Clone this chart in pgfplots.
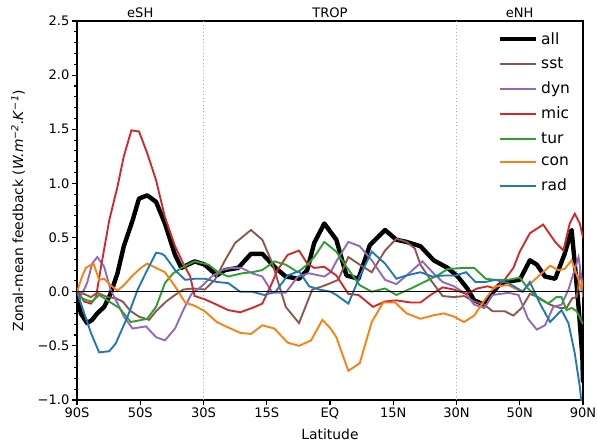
\documentclass[border=0pt]{standalone}
\usepackage{fontspec}
\setmainfont{DejaVu Sans}
\usepackage{pgfplots}
\pgfplotsset{compat=1.18}
\definecolor{tabbrown}{HTML}{8C564B}
\definecolor{tabpurple}{HTML}{9467BD}
\definecolor{tabred}{HTML}{D62728}
\definecolor{tabgreen}{HTML}{2CA02C}
\definecolor{taborange}{HTML}{FF7F0E}
\definecolor{tabblue}{HTML}{1F77B4}
\begin{document}
\begin{tikzpicture}
\begin{axis}[
  scale only axis, width=379.5pt, height=284.25pt,
  xmin=0, xmax=8, ymin=-1, ymax=2.5,
  xtick={0,1,2,3,4,5,6,7,8},
  xticklabels={90S,50S,30S,15S,EQ,15N,30N,50N,90N},
  ytick={-1,-0.5,0,0.5,1,1.5,2,2.5},
  yticklabels={−1.0,−0.5,0.0,0.5,1.0,1.5,2.0,2.5},
  minor y tick num=4,
  tick align=outside, tick pos=left,
  major tick length=3.5pt, minor tick length=2pt,
  every tick/.style={black, line width=0.8pt},
  tick label style={font=\fontsize{9.8}{11.5}\selectfont},
  xticklabel style={inner sep=2pt},
  yticklabel style={inner sep=2pt},
  label style={font=\fontsize{10.4}{12}\selectfont},
  xlabel={Latitude},
  ylabel={Zonal-mean feedback (\textit{W.m}\textsuperscript{\textit{−2}}\textit{.K}\textsuperscript{\textit{−1}})},
  xlabel style={yshift=-2pt},
  ylabel style={yshift=4pt},
  axis line style={line width=0.8pt},
  legend style={draw=none, fill=none, at={(0.988,0.985)}, anchor=north east,
    font=\fontsize{11.6}{13}\selectfont, row sep=4.6pt},
  legend cell align=left,
  legend image code/.code={\draw[#1] (0pt,0pt) -- (27pt,0pt);},
]
\draw[gray!70, dotted, line width=0.6pt] (axis cs:2,-1) -- (axis cs:2,2.5);
\draw[gray!70, dotted, line width=0.6pt] (axis cs:6,-1) -- (axis cs:6,2.5);
\coordinate (eSH) at (axis cs:1,2.5);
\coordinate (TROP) at (axis cs:4,2.5);
\coordinate (eNH) at (axis cs:7,2.5);
\coordinate (SW) at (rel axis cs:0,0);
\coordinate (NE) at (rel axis cs:1,1);

% all
\addplot[black, line width=3.3pt, line join=round] coordinates {
(0.00,0.00)(0.06,-0.20)(0.16,-0.29)(0.24,-0.26)(0.32,-0.20)(0.43,-0.14)(0.53,-0.02)
(0.64,0.17)(0.74,0.42)(0.88,0.66)(0.98,0.86)(1.11,0.89)(1.25,0.83)(1.39,0.63)
(1.55,0.34)(1.65,0.22)(1.86,0.28)(2.02,0.25)(2.21,0.15)(2.34,0.20)(2.55,0.22)
(2.75,0.35)(2.93,0.35)(3.14,0.22)(3.30,0.14)(3.51,0.12)(3.64,0.20)(3.75,0.45)
(3.91,0.63)(4.10,0.48)(4.26,0.15)(4.45,0.12)(4.63,0.43)(4.87,0.57)(5.05,0.48)
(5.21,0.46)(5.43,0.42)(5.64,0.29)(5.86,0.22)(6.02,0.14)(6.17,0.03)(6.28,-0.08)
(6.44,-0.12)(6.54,-0.03)(6.67,0.06)(6.76,0.09)(7.00,0.11)(7.16,0.29)(7.27,0.25)
(7.40,0.14)(7.56,0.12)(7.71,0.35)(7.82,0.57)(7.87,0.26)(7.93,-0.14)(7.99,-0.60)(8.00,-0.84)
};
\addlegendentry{all}
% sst
\addplot[tabbrown, line width=1.4pt] coordinates {
(0.00,0.00)(0.11,-0.02)(0.22,-0.05)(0.32,-0.01)(0.48,-0.05)(0.61,-0.06)(0.72,-0.09)
(0.85,-0.18)(0.98,-0.23)(1.14,-0.26)(1.25,-0.18)(1.41,-0.09)(1.55,-0.03)(1.68,0.02)
(1.84,0.03)(2.02,0.02)(2.18,0.11)(2.34,0.29)(2.50,0.45)(2.75,0.57)(2.93,0.48)
(3.09,0.26)(3.30,-0.14)(3.51,-0.29)(3.72,0.02)(3.88,0.05)(4.01,0.08)(4.13,0.11)
(4.29,0.32)(4.47,0.25)(4.66,0.18)(4.87,0.38)(5.05,0.49)(5.21,0.46)(5.34,0.40)
(5.43,0.25)(5.59,0.11)(5.78,-0.04)(5.96,-0.05)(6.12,-0.04)(6.28,-0.09)(6.44,-0.12)
(6.57,-0.18)(6.76,-0.18)(6.90,-0.22)(7.03,-0.15)(7.16,-0.02)(7.29,-0.05)(7.48,-0.12)
(7.64,-0.15)(7.74,-0.15)(7.83,-0.06)(7.90,-0.05)(7.95,0.17)(8.00,0.05)
};
\addlegendentry{sst}
% dyn
\addplot[tabpurple, line width=1.4pt] coordinates {
(0.00,0.00)(0.08,-0.02)(0.16,0.08)(0.24,0.26)(0.32,0.32)(0.43,0.23)(0.53,0.02)
(0.67,-0.14)(0.74,-0.23)(0.88,-0.34)(1.09,-0.32)(1.25,-0.42)(1.39,-0.45)(1.55,-0.34)
(1.68,-0.17)(1.81,-0.02)(1.97,0.05)(2.13,0.14)(2.29,0.20)(2.44,0.22)(2.60,0.22)
(2.77,0.17)(2.93,0.14)(3.09,-0.01)(3.30,-0.01)(3.49,0.14)(3.67,0.17)(3.91,0.14)
(4.01,0.18)(4.10,0.28)(4.29,0.46)(4.47,0.42)(4.66,0.29)(4.87,0.11)(5.05,0.07)
(5.21,0.15)(5.46,0.28)(5.62,0.18)(5.78,0.09)(5.96,0.05)(6.15,-0.02)(6.28,-0.12)
(6.44,-0.15)(6.57,-0.03)(6.82,-0.01)(6.98,-0.03)(7.13,-0.25)(7.27,-0.35)(7.40,-0.31)
(7.53,-0.14)(7.66,-0.12)(7.77,0.02)(7.85,0.17)(7.93,0.32)(7.98,0.11)(8.00,-0.05)
};
\addlegendentry{dyn}
% mic
\addplot[tabred, line width=1.4pt] coordinates {
(0.00,0.02)(0.11,-0.09)(0.22,-0.11)(0.30,-0.05)(0.38,0.23)(0.51,0.66)(0.64,0.97)
(0.74,1.25)(0.86,1.49)(0.98,1.48)(1.11,1.28)(1.25,1.03)(1.39,0.69)(1.55,0.42)
(1.68,0.26)(1.79,0.14)(1.86,-0.04)(2.02,-0.07)(2.21,-0.12)(2.39,-0.17)(2.58,-0.19)
(2.77,-0.15)(2.93,-0.11)(3.06,0.05)(3.17,0.20)(3.33,0.34)(3.51,0.38)(3.64,0.26)
(3.75,0.22)(3.91,0.23)(4.10,0.15)(4.29,-0.02)(4.45,-0.03)(4.68,-0.14)(4.87,-0.09)
(5.05,-0.08)(5.28,-0.10)(5.43,-0.10)(5.59,-0.03)(5.78,0.04)(5.96,0.02)(6.15,-0.02)
(6.33,0.03)(6.49,0.05)(6.61,0.03)(6.76,0.11)(6.90,0.22)(7.00,0.37)(7.16,0.54)
(7.37,0.62)(7.56,0.46)(7.69,0.38)(7.79,0.63)(7.87,0.72)(7.95,0.63)(8.00,0.50)
};
\addlegendentry{mic}
% tur
\addplot[tabgreen, line width=1.4pt] coordinates {
(0.00,-0.02)(0.08,-0.06)(0.16,-0.08)(0.24,-0.09)(0.35,-0.03)(0.43,-0.06)(0.56,-0.11)
(0.67,-0.15)(0.85,-0.28)(1.11,-0.25)(1.25,-0.14)(1.34,0.00)(1.39,0.08)(1.52,0.17)
(1.68,0.23)(1.86,0.28)(2.08,0.25)(2.23,0.18)(2.39,0.14)(2.61,0.17)(2.77,0.18)
(2.93,0.20)(3.12,0.28)(3.30,0.25)(3.49,0.18)(3.64,0.25)(3.75,0.32)(3.91,0.46)
(4.10,0.37)(4.26,0.23)(4.47,0.06)(4.66,0.00)(4.87,0.03)(5.05,-0.03)(5.28,0.03)
(5.49,0.09)(5.70,0.15)(5.86,0.21)(6.12,0.22)(6.28,0.22)(6.46,0.12)(6.61,0.11)
(6.82,0.11)(7.00,0.13)(7.13,0.03)(7.29,-0.06)(7.45,-0.11)(7.58,-0.05)(7.66,-0.05)
(7.74,-0.17)(7.82,-0.15)(7.90,-0.18)(8.00,-0.30)
};
\addlegendentry{tur}
% con
\addplot[taborange, line width=1.4pt] coordinates {
(0.00,0.00)(0.08,0.14)(0.14,0.22)(0.26,0.26)(0.35,0.11)(0.43,0.12)(0.53,0.06)
(0.64,0.01)(0.74,0.06)(0.88,0.15)(1.01,0.22)(1.11,0.26)(1.25,0.22)(1.39,0.18)
(1.55,0.05)(1.71,-0.10)(1.86,-0.13)(2.02,-0.18)(2.21,-0.28)(2.39,-0.33)(2.58,-0.38)
(2.75,-0.39)(2.93,-0.31)(3.12,-0.34)(3.33,-0.47)(3.51,-0.50)(3.70,-0.45)(3.88,-0.26)
(4.01,-0.34)(4.10,-0.42)(4.29,-0.73)(4.47,-0.66)(4.66,-0.28)(4.84,-0.10)(5.03,-0.10)
(5.21,-0.20)(5.43,-0.25)(5.62,-0.22)(5.80,-0.20)(5.96,-0.23)(6.12,-0.28)(6.28,-0.22)
(6.44,-0.08)(6.61,0.05)(6.82,0.06)(7.03,0.00)(7.29,0.14)(7.48,0.24)(7.61,0.20)
(7.71,0.21)(7.82,0.29)(7.93,0.11)(7.97,0.02)(8.00,0.11)
};
\addlegendentry{con}
% rad
\addplot[tabblue, line width=1.4pt] coordinates {
(0.00,0.00)(0.08,-0.14)(0.22,-0.38)(0.35,-0.56)(0.51,-0.55)(0.61,-0.48)(0.80,-0.23)
(0.96,0.02)(1.11,0.20)(1.25,0.36)(1.34,0.35)(1.39,0.33)(1.55,0.20)(1.71,0.11)
(1.86,0.12)(2.02,0.12)(2.21,0.09)(2.39,0.08)(2.58,0.00)(2.77,0.00)(2.96,-0.03)
(3.14,0.00)(3.33,0.15)(3.51,0.19)(3.67,0.05)(3.83,0.02)(4.01,0.00)(4.10,-0.03)
(4.29,-0.11)(4.47,0.14)(4.66,0.37)(4.87,0.26)(5.05,0.12)(5.21,0.15)(5.43,0.18)
(5.62,0.14)(5.80,0.15)(5.99,0.15)(6.15,0.18)(6.30,0.09)(6.46,0.09)(6.61,0.11)
(6.82,0.08)(7.05,0.00)(7.16,0.09)(7.32,-0.11)(7.48,-0.28)(7.66,-0.17)(7.77,-0.29)
(7.87,-0.57)(7.95,-0.88)(7.98,-1.05)
};
\addlegendentry{rad}
\draw[black, line width=0.8pt] (axis cs:0,0) -- (axis cs:8,0);
\end{axis}
\node[above, font=\fontsize{9.8}{11.5}\selectfont, inner sep=2.5pt] at (eSH) {eSH};
\node[above, font=\fontsize{9.8}{11.5}\selectfont, inner sep=2.5pt] at (TROP) {TROP};
\node[above, font=\fontsize{9.8}{11.5}\selectfont, inner sep=2.5pt] at (eNH) {eNH};
\pgfresetboundingbox
\useasboundingbox ([xshift=-57.75pt,yshift=-33.75pt]SW) rectangle ([xshift=10.5pt,yshift=15.75pt]NE);
\end{tikzpicture}
\end{document}
